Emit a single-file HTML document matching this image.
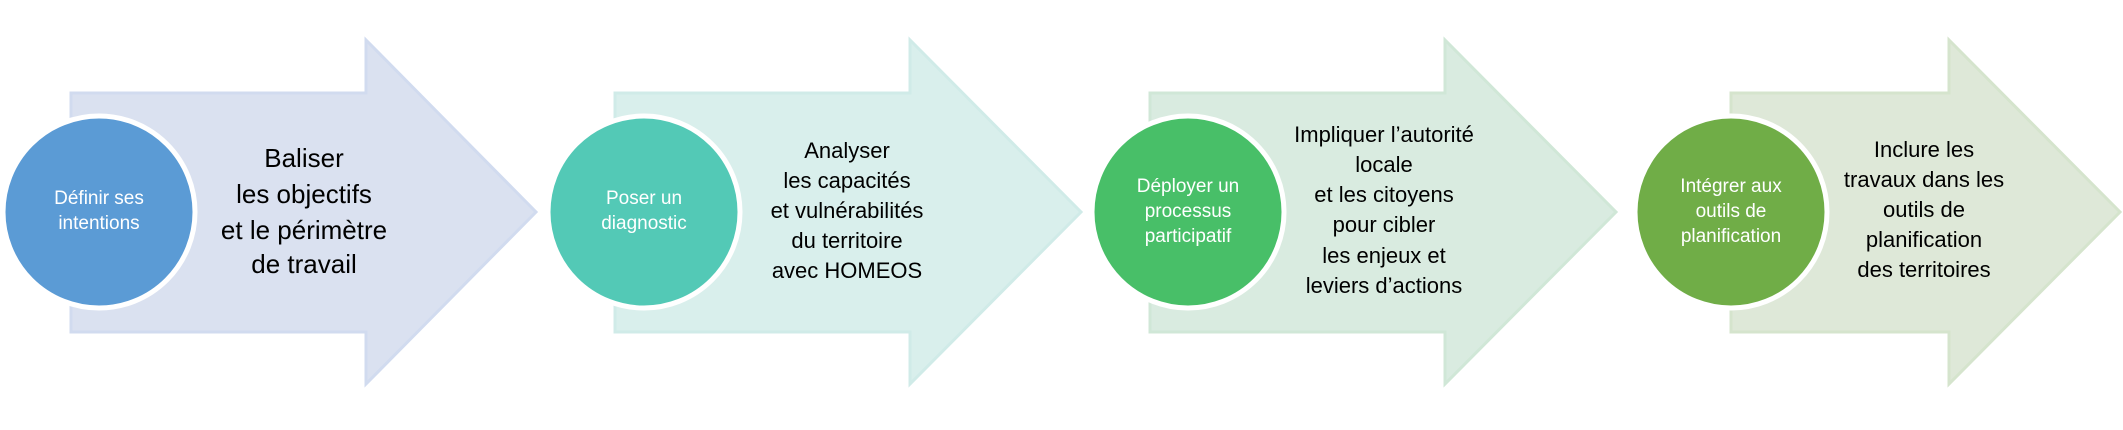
<!DOCTYPE html>
<html><head><meta charset="utf-8"><style>
html,body{margin:0;padding:0;background:#fff;}
svg{display:block;}
text{font-family:"Liberation Sans",sans-serif;text-anchor:middle;}
.w{fill:#fff;font-size:19px;}
</style></head><body>
<svg width="2123" height="430" viewBox="0 0 2123 430" xmlns="http://www.w3.org/2000/svg">
<polygon points="71,93 366,93 366,40 536,212 366,384 366,332 71,332" fill="#dae1f0" stroke="#d1dbef" stroke-width="3"/>
<polygon points="615,93 910,93 910,40 1081,212 910,384 910,332 615,332" fill="#d9efec" stroke="#d0ebe8" stroke-width="3"/>
<polygon points="1150,93 1445,93 1445,40 1616,212 1445,384 1445,332 1150,332" fill="#d9ebe0" stroke="#d0e7d7" stroke-width="3"/>
<polygon points="1731,93 1949,93 1949,40 2120,212 1949,384 1949,332 1731,332" fill="#dee8d8" stroke="#d5e4cd" stroke-width="3"/>

<circle cx="99" cy="212" r="96" fill="#5b9bd5" stroke="#fff" stroke-width="5"/>
<circle cx="644" cy="212" r="96" fill="#53c9b6" stroke="#fff" stroke-width="5"/>
<circle cx="1188" cy="212" r="96" fill="#48bf68" stroke="#fff" stroke-width="5"/>
<circle cx="1731" cy="212" r="96" fill="#70ad47" stroke="#fff" stroke-width="5"/>

<text class="w" x="99" y="204">Définir ses</text>
<text class="w" x="99" y="229">intentions</text>
<text class="w" x="644" y="204">Poser un</text>
<text class="w" x="644" y="229">diagnostic</text>
<text class="w" x="1188" y="192">Déployer un</text>
<text class="w" x="1188" y="217">processus</text>
<text class="w" x="1188" y="242">participatif</text>
<text class="w" x="1731" y="192">Intégrer aux</text>
<text class="w" x="1731" y="217">outils de</text>
<text class="w" x="1731" y="242">planification</text>

<g font-size="26" fill="#000">
<text x="304" y="167">Baliser</text>
<text x="304" y="203">les objectifs</text>
<text x="304" y="239">et le périmètre</text>
<text x="304" y="273">de travail</text>
</g>
<g font-size="22" fill="#000">
<text x="847" y="158">Analyser</text>
<text x="847" y="188">les capacités</text>
<text x="847" y="218">et vulnérabilités</text>
<text x="847" y="248">du territoire</text>
<text x="847" y="278">avec HOMEOS</text>

<text x="1384" y="142">Impliquer l’autorité</text>
<text x="1384" y="172">locale</text>
<text x="1384" y="202">et les citoyens</text>
<text x="1384" y="232">pour cibler</text>
<text x="1384" y="263">les enjeux et</text>
<text x="1384" y="293">leviers d’actions</text>

<text x="1924" y="157">Inclure les</text>
<text x="1924" y="187">travaux dans les</text>
<text x="1924" y="217">outils de</text>
<text x="1924" y="247">planification</text>
<text x="1924" y="277">des territoires</text>
</g>
</svg>
</body></html>
